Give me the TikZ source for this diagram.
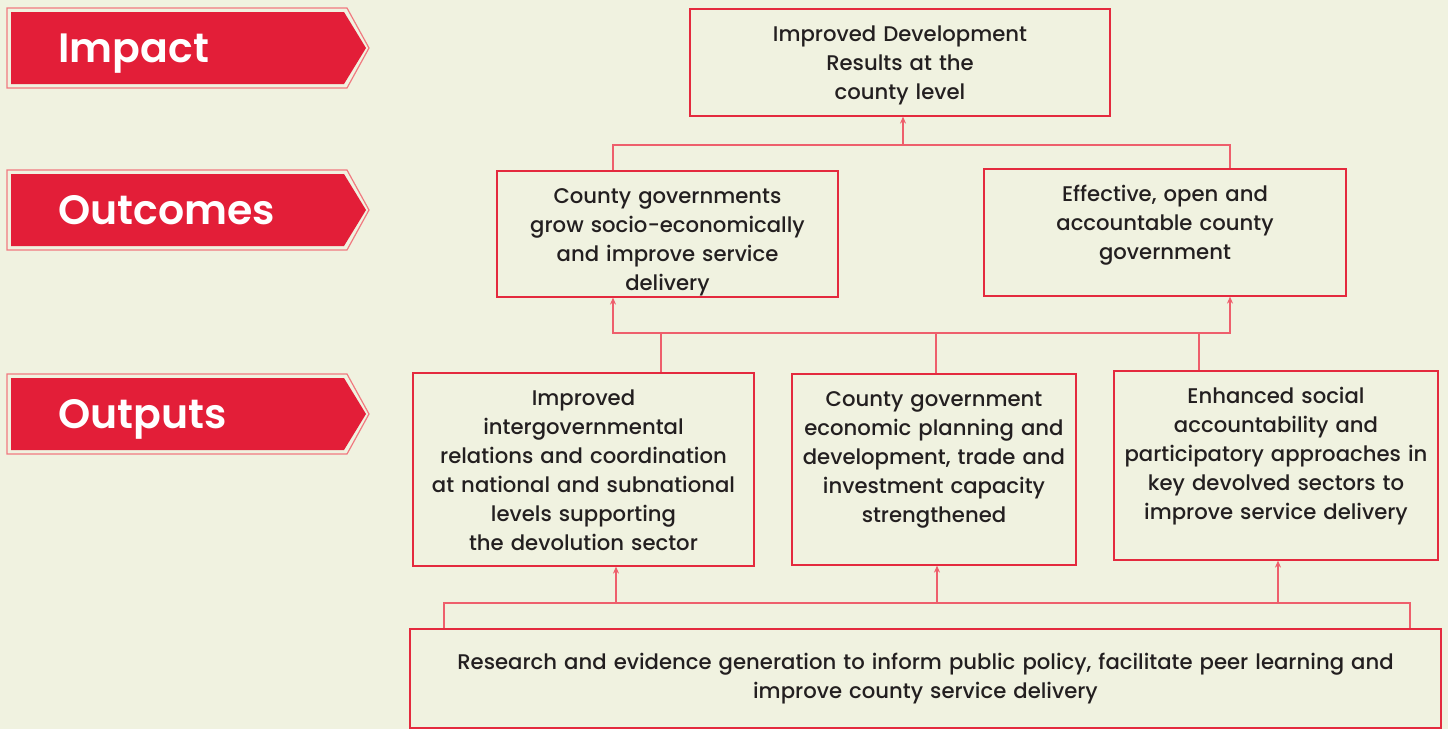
\documentclass[tikz,border=0pt]{standalone}
\usepackage{fontspec}
\setmainfont{Poppins}[UprightFont=* Medium, BoldFont=* SemiBold]
\usetikzlibrary{arrows.meta}

\definecolor{paper}{HTML}{F0F2E0}
\definecolor{bannerred}{HTML}{E31E38}
\definecolor{boxred}{HTML}{E42A3E}
\definecolor{linkred}{HTML}{EE5F6C}
\definecolor{rim}{HTML}{F07A80}
\definecolor{ink}{HTML}{231F20}

\tikzset{
    box/.style={
        draw=boxred,
        line width=0.8pt,
        text=ink,
        text width=#1,
        align=center,
        inner xsep=0pt,
        font=\fontsize{10.6}{14.5}\selectfont
    },
    topbox/.style={
        box=#1,
        anchor=north,
        text height=8.5pt,
        inner ysep=8pt
    },
    link/.style={draw=linkred, line width=0.65pt},
    bannertext/.style={
        anchor=base west,
        text=white,
        inner sep=0pt,
        font=\fontsize{20.5}{24}\selectfont\bfseries
    }
}

\begin{document}
\begin{tikzpicture}[x=0.5pt, y=-0.5pt, >={Stealth[length=3.5pt,width=3pt]}]
        \fill[paper] (0,0) rectangle (1448,729);
        \useasboundingbox (0,0) rectangle (1448,729);

        % level banners
        \foreach \y/\name in {48/Impact, 210/Outcomes, 414/Outputs} {
            \draw[rim, line width=0.6pt] (7,\y-40) -- (347,\y-40) -- (369,\y)
                -- (347,\y+40) -- (7,\y+40) -- cycle;
            \fill[bannerred] (11,\y-36) -- (344,\y-36) -- (366,\y)
                -- (344,\y+36) -- (11,\y+36) -- cycle;
            \node[bannertext] (\name) at (58,\y+14) {\name};
        }

        \node[topbox=210pt, text depth=29pt] (impact) at (900,8) {
            Improved Development\\
            Results at the\\
            county level
        };

        \node[topbox=170.5pt, text depth=38.5pt] (grow) at (667.5,170) {
            County governments\\
            grow socio-economically\\
            and improve service\\
            delivery
        };

        \node[topbox=181pt, text depth=39pt] (open) at (1165,168) {
            Effective, open and\\
            accountable county\\
            government
        };

        \node[topbox=170.5pt, text depth=72pt] (relations) at (583.5,372) {
            Improved\\
            intergovernmental\\
            relations and coordination\\
            at national and subnational\\
            levels supporting\\
            the devolution sector
        };

        \node[topbox=142pt, text depth=71pt] (planning) at (934,373) {
            County government\\
            economic planning and\\
            development, trade and\\
            investment capacity\\
            strengthened
        };

        \node[topbox=162pt, text depth=70pt] (social) at (1276,370) {
            Enhanced social\\
            accountability and\\
            participatory approaches in\\
            key devolved sectors to\\
            improve service delivery
        };

        \node[box=515.5pt, minimum height=49.5pt] (research) at (925.5,678.5) {
            Research and evidence generation to inform public policy, facilitate peer learning and\\
            improve county service delivery
        };

        % outcomes to impact
        \coordinate (upL) at (613,145);
        \coordinate (upR) at (1230,145);
        \coordinate (upM) at (903,145);
        \draw[link] (upL |- grow.north) -- (upL) -- (upR) -- (upR |- open.north);
        \draw[link, ->] (upM) -- (upM |- impact.south);

        % outputs to outcomes
        \coordinate (midL) at (613,333);
        \coordinate (midR) at (1230,333);
        \draw[link, <->] (midL |- grow.south) -- (midL) -- (midR) -- (midR |- open.south);
        \foreach \x/\dest in {661/relations, 936/planning, 1199/social} {
            \draw[link] (\x,333) coordinate (m) -- (m |- \dest.north);
        }

        % research to outputs
        \coordinate (lowL) at (444,603);
        \coordinate (lowR) at (1410,603);
        \draw[link] (lowL |- research.north) -- (lowL) -- (lowR) -- (lowR |- research.north);
        \foreach \x/\dest in {616/relations, 937/planning, 1278/social} {
            \draw[link, ->] (\x,603) coordinate (m) -- (m |- \dest.south);
        }
    \end{tikzpicture}
\end{document}
